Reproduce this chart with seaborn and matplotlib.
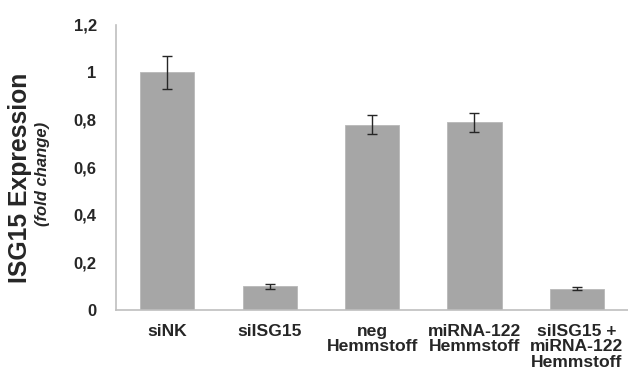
import matplotlib
matplotlib.use('Agg')
import matplotlib.pyplot as plt
import seaborn as sns
import pandas as pd

sns.set_style('white')
plt.rcParams['font.family'] = ['Liberation Sans', 'DejaVu Sans']

groups = ['siNK', 'siISG15', 'neg\nHemmstoff', 'miRNA-122\nHemmstoff', 'siISG15 +\nmiRNA-122\nHemmstoff']
expr = [1.0, 0.10, 0.78, 0.79, 0.09]
err = [0.07, 0.01, 0.04, 0.04, 0.008]
yticks = [0, 0.2, 0.4, 0.6, 0.8, 1.0, 1.2]
ytick_labels = ['0', '0,2', '0,4', '0,6', '0,8', '1', '1,2']

df = pd.DataFrame({'group': groups, 'expr': expr, 'err': err})

fig = plt.figure(figsize=(6.28, 3.78), dpi=100)
ax = fig.add_axes([0.185, 0.18, 0.815, 0.754])

sns.barplot(data=df, x='group', y='expr', color='#a6a6a6', saturation=1,
            width=0.53, edgecolor='#b8b8b8', linewidth=0.6, ax=ax)
ax.errorbar(df['group'], df['expr'], yerr=df['err'], fmt='none',
            ecolor='#262626', elinewidth=1.0, capsize=3.7, capthick=1.0)

ax.set_ylim(0, 1.2)
ax.set_xlim(-0.5, 4.5)
ax.set_yticks(yticks)
ax.set_yticklabels(ytick_labels, fontsize=12, fontweight='bold')
ax.tick_params(axis='y', length=0, pad=14)
ax.tick_params(axis='x', length=0, pad=10, labelsize=12.6)
for lbl in ax.get_xticklabels():
    lbl.set_fontweight('bold')
    lbl.set_linespacing(1.05)
ax.set_xlabel('')
ax.set_ylabel('')

for s in ['top', 'right']:
    ax.spines[s].set_visible(False)
for s in ['left', 'bottom']:
    ax.spines[s].set_color('#bfbfbf')
    ax.spines[s].set_linewidth(1.2)

fig.text(20 / 628, 1 - 178 / 378, 'ISG15 Expression', rotation=90, ha='center', va='center',
         fontsize=17.8, fontweight='bold')
fig.text(43 / 628, 1 - 174 / 378, '(fold change)', rotation=90, ha='center', va='center',
         fontsize=12, fontweight='bold', fontstyle='italic')

fig.savefig('out.png', dpi=100)
